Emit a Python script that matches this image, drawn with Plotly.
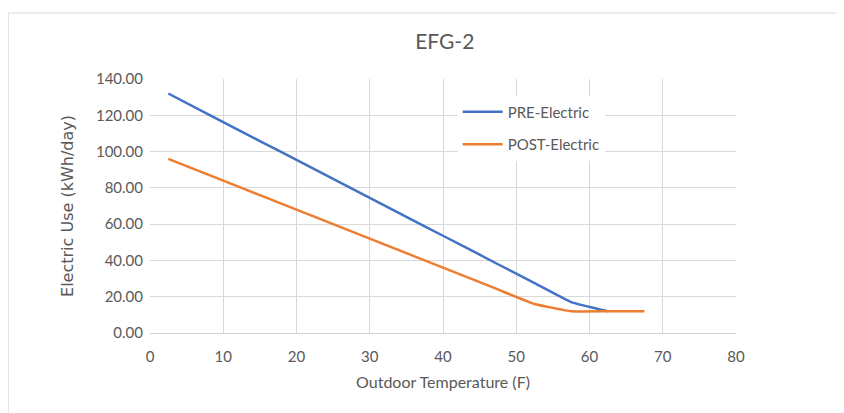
import plotly.graph_objects as go

temps_pre = [2.5, 7.5, 12.5, 17.5, 22.5, 27.5, 32.5, 37.5, 42.5, 47.5, 52.5, 57.5, 62.5]
pre_electric = [132.0, 121.5, 111.0, 100.6, 90.2, 79.7, 69.3, 58.8, 48.4, 37.9, 27.5, 17.0, 12.0]
temps_post = [2.5, 7.5, 12.5, 17.5, 22.5, 27.5, 32.5, 37.5, 42.5, 47.5, 52.5, 57.5, 62.5, 67.5]
post_electric = [96.0, 88.0, 80.0, 72.0, 64.0, 56.0, 48.0, 40.0, 32.0, 24.0, 16.0, 12.0, 12.0, 12.0]

FONT = "Lato, Open Sans, sans-serif"
GREY = "#595959"

fig = go.Figure()
fig.add_trace(go.Scatter(x=temps_pre, y=pre_electric, mode="lines", name="PRE-Electric",
                         legendgroup="a", line=dict(color="#4472C4", width=2.5, shape="spline", smoothing=0.3)))
fig.add_trace(go.Scatter(x=temps_post, y=post_electric, mode="lines", name="POST-Electric",
                         legendgroup="b", line=dict(color="#ED7D31", width=2.5, shape="spline", smoothing=0.3)))

fig.update_layout(
    width=844, height=413,
    margin=dict(l=142, r=116, t=71, b=88),
    paper_bgcolor="white", plot_bgcolor="white",
    font=dict(family=FONT, color=GREY, size=15),
    title=dict(text="EFG-2", x=0.503, xref="paper", y=0.918, yref="container", yanchor="middle",
               xanchor="center", font=dict(size=21, color=GREY, family=FONT)),
    showlegend=True,
    legend=dict(x=0.525, y=0.935, xanchor="left", yanchor="top", bgcolor="white",
                font=dict(size=15, color=GREY, family=FONT), tracegroupgap=10,
                itemwidth=40, borderwidth=0),
    xaxis=dict(range=[0, 80], dtick=10, tick0=0, showgrid=True, gridcolor="#d9d9d9", gridwidth=1,
               zeroline=False, showline=True, linecolor="#d0d0d0", linewidth=1,
               ticks="", ticklabelstandoff=10,
               title=dict(text="Outdoor Temperature (F)", standoff=12, font=dict(size=16, color=GREY)),
               tickfont=dict(size=15, color=GREY)),
    yaxis=dict(range=[0, 140], dtick=20, tick0=0, showgrid=True, gridcolor="#d9d9d9", gridwidth=1,
               zeroline=False, tickformat=".2f", ticks="", ticklabelstandoff=6,
               title=dict(text="Electric Use (kWh/day)", standoff=18,
                          font=dict(size=16, color=GREY, family="DejaVu Sans, Verdana, sans-serif")),
               tickfont=dict(size=15, color=GREY)),
    shapes=[dict(type="rect", xref="paper", yref="paper", x0=-0.242, x1=1.19, y0=-0.33, y1=1.26,
                 line=dict(color="#d9d9d9", width=1), fillcolor="rgba(0,0,0,0)", layer="below")],
)

fig.write_html("out.html")
